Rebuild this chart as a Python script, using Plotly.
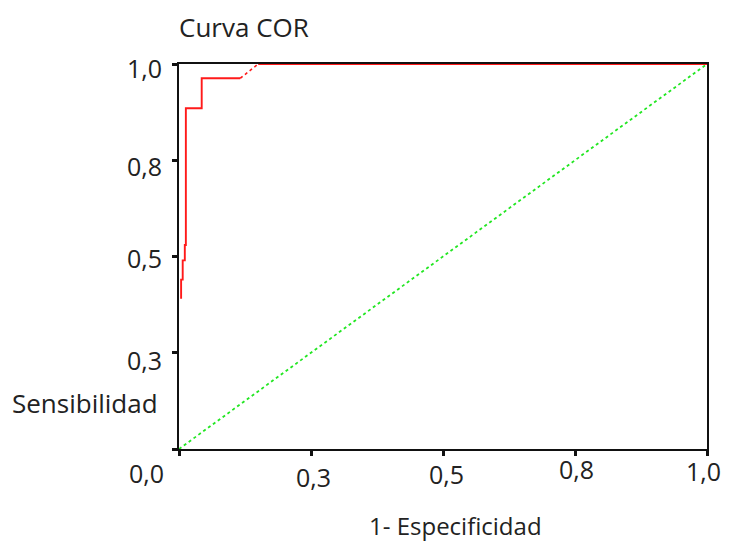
import plotly.graph_objects as go

# ROC curve points (1 - specificity, sensitivity)
fpr = [0.004, 0.004, 0.007, 0.007, 0.011, 0.011, 0.013, 0.013, 0.043, 0.043, 0.116, 0.150, 1.0]
tpr = [0.390, 0.440, 0.440, 0.490, 0.490, 0.530, 0.530, 0.885, 0.885, 0.963, 0.963, 1.000, 1.0]

# reference diagonal
diag_x = [0.0, 1.0]
diag_y = [0.0, 1.0]

tick_vals = [0.0, 0.25, 0.5, 0.75, 1.0]
tick_text = ["0,0", "0,3", "0,5", "0,8", "1,0"]

title_text = "Curva COR"
x_title = "1- Especificidad"
y_title = "Sensibilidad"

FONT = "Open Sans, Noto Sans, DejaVu Sans, sans-serif"
TXT = "#222222"
RED = "#ff1a1a"
GREEN = "#22e622"
TICK_SIZE = 25
TITLE_SIZE = 26

fig = go.Figure()

fig.add_trace(go.Scatter(x=diag_x, y=diag_y, mode="lines",
                         line=dict(color=GREEN, width=1.8, dash="dot"),
                         hoverinfo="skip", showlegend=False))
# steps up to the last plateau
fig.add_trace(go.Scatter(x=fpr[:11], y=tpr[:11], mode="lines",
                         line=dict(color=RED, width=1.9), showlegend=False))
# short diagonal segment (rendered dotted in the reference)
fig.add_trace(go.Scatter(x=fpr[10:12], y=tpr[10:12], mode="lines",
                         line=dict(color=RED, width=1.6, dash="dot"), showlegend=False))
# top plateau
fig.add_trace(go.Scatter(x=fpr[11:], y=tpr[11:], mode="lines",
                         line=dict(color=RED, width=1.9), showlegend=False))

axis_common = dict(range=[0, 1], showgrid=False, zeroline=False,
                   showline=True, linecolor="#111111", linewidth=2, mirror=True,
                   ticks="outside", ticklen=5, tickwidth=3, tickcolor="#111111",
                   tickvals=tick_vals, showticklabels=False, fixedrange=True)

# page body has an 8px margin, so the figure is sized to end at the window edges
fig.update_layout(
    width=722, height=536,
    margin=dict(l=171, r=23, t=56, b=95),
    paper_bgcolor="white", plot_bgcolor="white",
    xaxis=axis_common,
    yaxis=axis_common,
    font=dict(family=FONT, color=TXT, size=TICK_SIZE),
    showlegend=False,
)

# y tick labels
y_lab_shift = [-4, -6, -1, -7]
for v, t, ys in zip(tick_vals[1:][::-1], tick_text[1:][::-1], y_lab_shift):
    fig.add_annotation(x=0, xref="paper", y=v, yref="y", text=t, showarrow=False,
                       xanchor="right", yanchor="middle", xshift=-15, yshift=ys,
                       font=dict(family=FONT, color=TXT, size=TICK_SIZE))

# x tick labels (staggered as in the reference)
x_shifts = [-33, 2, 3, 1, -4]
y_shifts = [-24, -28, -25, -20, -22]
for v, t, xs, ys in zip(tick_vals, tick_text, x_shifts, y_shifts):
    fig.add_annotation(x=v, xref="x", y=0, yref="paper", text=t, showarrow=False,
                       xanchor="center", yanchor="middle", xshift=xs, yshift=ys,
                       font=dict(family=FONT, color=TXT, size=TICK_SIZE))

fig.add_annotation(x=0, xref="paper", y=1.0, yref="paper", text=title_text,
                   showarrow=False, xanchor="left", yanchor="middle", xshift=-2, yshift=37,
                   font=dict(family=FONT, color=TXT, size=TITLE_SIZE))
fig.add_annotation(x=0, xref="paper", y=0, yref="paper", text=y_title,
                   showarrow=False, xanchor="left", yanchor="middle", xshift=-169, yshift=46,
                   font=dict(family=FONT, color=TXT, size=TITLE_SIZE))
fig.add_annotation(x=0.523, xref="paper", y=0, yref="paper", text=x_title,
                   showarrow=False, xanchor="center", yanchor="middle", yshift=-76,
                   font=dict(family=FONT, color=TXT, size=TITLE_SIZE - 2))

fig.write_html("out.html")
